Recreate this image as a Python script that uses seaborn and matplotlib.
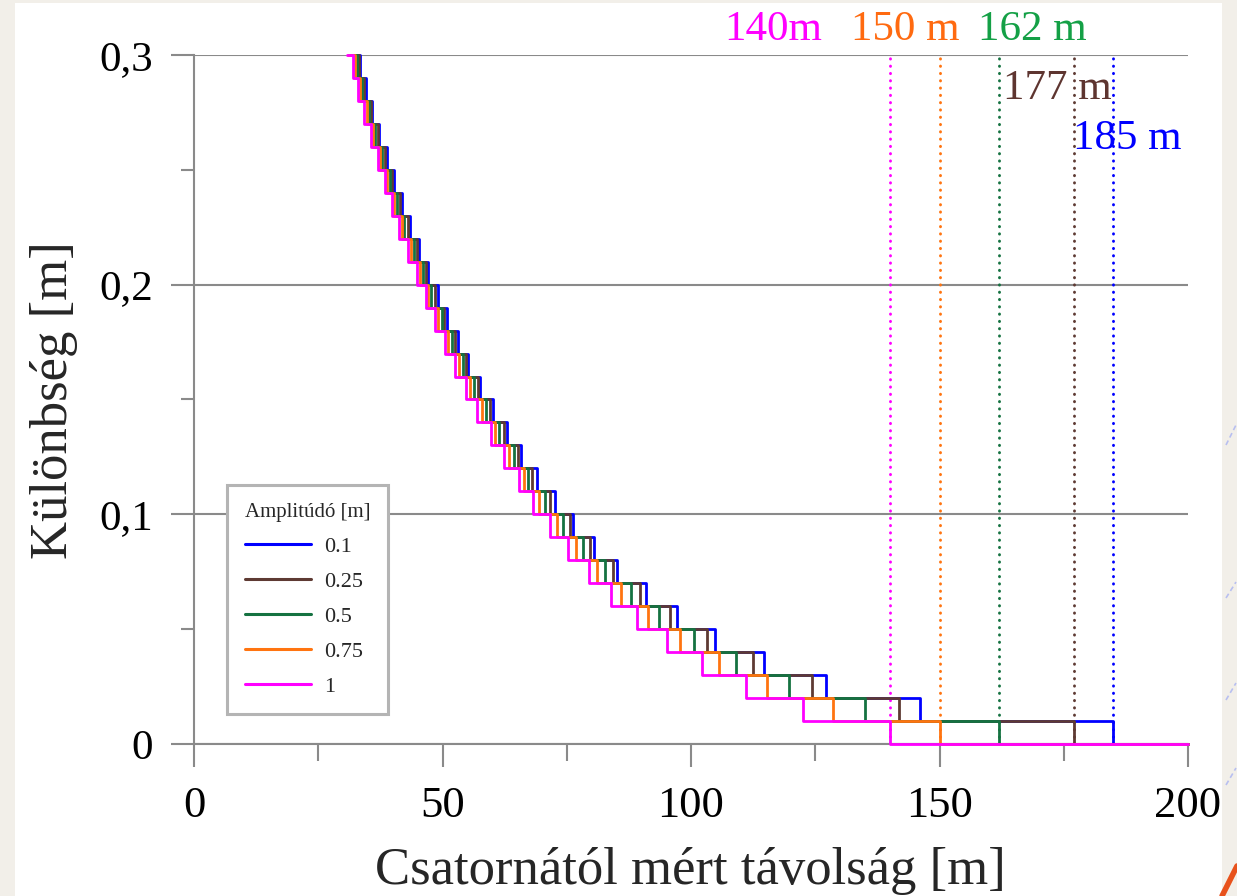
import matplotlib
matplotlib.use("Agg")
import matplotlib.pyplot as plt
import pandas as pd
import seaborn as sns
from matplotlib.patches import Rectangle
from matplotlib.lines import Line2D
from matplotlib.ticker import MultipleLocator

# ---------------- data ----------------
amplitudes = ["0.1", "0.25", "0.5", "0.75", "1"]
# difference levels (m) at which each step drops one centimetre
levels = [0.30, 0.29, 0.28, 0.27, 0.26, 0.25, 0.24, 0.23, 0.22, 0.21,
          0.20, 0.19, 0.18, 0.17, 0.16, 0.15, 0.14, 0.13, 0.12, 0.11,
          0.10, 0.09, 0.08, 0.07, 0.06, 0.05, 0.04, 0.03, 0.02, 0.01]
# distance where the curve leaves the top of the chart
start_x = {"0.1": 31.8, "0.25": 31.6, "0.5": 31.3, "0.75": 31.0, "1": 30.7}
# distance (m) at which each level drops to the next lower one
drop_x_01 = [33.4, 34.6, 35.9, 37.3, 38.8, 40.2, 41.8, 43.5, 45.3, 47.1,
             49.0, 51.0, 53.1, 55.2, 57.5, 60.1, 62.9, 65.7, 69.0, 72.6,
             76.3, 80.5, 85.2, 90.9, 97.1, 104.8, 114.6, 127.1, 146.1, 185.0]
drop_x_025 = [33.2, 34.3, 35.7, 37.0, 38.5, 39.9, 41.4, 43.1, 44.9, 46.7,
              48.4, 50.4, 52.5, 54.7, 57.1, 59.6, 62.4, 65.1, 68.1, 71.6,
              75.7, 79.7, 84.4, 89.7, 95.8, 103.3, 112.5, 124.4, 141.9, 177.0]
drop_x_05 = [32.7, 33.8, 35.2, 36.4, 37.9, 39.4, 40.8, 42.3, 44.3, 46.1,
             47.7, 49.8, 51.9, 54.1, 56.3, 58.8, 61.4, 64.3, 67.3, 70.6,
             74.3, 78.2, 82.7, 87.9, 93.6, 100.6, 109.0, 119.8, 135.1, 162.0]
drop_x_075 = [32.3, 33.4, 34.8, 36.0, 37.5, 38.9, 40.3, 41.9, 43.7, 45.5,
              47.1, 49.1, 51.2, 53.3, 55.5, 57.9, 60.6, 63.3, 66.3, 69.5,
              73.0, 76.8, 81.0, 85.9, 91.3, 97.8, 105.6, 115.2, 128.5, 150.0]
drop_x_1 = [31.9, 32.9, 34.3, 35.6, 37.0, 38.4, 39.8, 41.3, 43.1, 44.8,
            46.6, 48.4, 50.5, 52.6, 54.7, 57.0, 59.7, 62.4, 65.3, 68.3,
            71.6, 75.3, 79.5, 83.9, 89.1, 95.1, 102.2, 111.1, 122.5, 140.0]
x_end = 200.0

cutoff_x = [185, 177, 162, 150, 140]
cutoff_labels = ["185 m", "177 m", "162 m", "150 m", "140m"]

# ---------------- styles ----------------
line_colors = ["#0000ff", "#5e3a33", "#157241", "#ff7410", "#ff00ff"]
text_colors = ["#0000ff", "#5e3530", "#14a046", "#ff6a10", "#ff00ff"]
label_xy = [(187.7, 0.2634), (173.8, 0.2852), (168.6, 0.3111),
            (143.1, 0.3111), (116.5, 0.3111)]

drops = dict(zip(amplitudes, [drop_x_01, drop_x_025, drop_x_05, drop_x_075, drop_x_1]))
rows = []
for amp in amplitudes:
    xs = [start_x[amp]] + drops[amp] + [x_end]
    ys = [levels[0]] + [round(l - 0.01, 2) for l in levels] + [0.0]
    for xv, yv in zip(xs, ys):
        rows.append({"x": xv, "y": yv, "amp": amp})
df = pd.DataFrame(rows)

sns.set_style("white")
plt.rcParams["font.family"] = ["Liberation Serif", "DejaVu Serif"]

W, H = 1237, 896
fig = plt.figure(figsize=(W / 100, H / 100), dpi=100)
fig.patch.set_facecolor("#f2efe9")
fig.add_artist(Rectangle((15 / W, 0), (1222 - 15) / W, 893 / H,
                         transform=fig.transFigure, facecolor="white",
                         edgecolor="none", zorder=-5))
# slide decorations in the right margin
for (x0, y0, x1, y1) in [(1226, 445, 1236, 425), (1226, 598, 1236, 582),
                         (1226, 700, 1236, 683), (1226, 785, 1236, 768)]:
    fig.add_artist(Line2D([x0 / W, x1 / W], [1 - y0 / H, 1 - y1 / H],
                          transform=fig.transFigure, color="#b8bff0",
                          lw=1.2, ls=(0, (3, 2))))
fig.add_artist(Line2D([1222 / W, 1237 / W], [1 - 896 / H, 1 - 866 / H],
                      transform=fig.transFigure, color="#e8521c", lw=4))

ax = fig.add_axes([194 / W, 1 - 744 / H, (1188 - 194) / W, (744 - 55) / H])
ax.patch.set_alpha(0)

palette = dict(zip(amplitudes, line_colors))
sns.lineplot(data=df, x="x", y="y", hue="amp", hue_order=amplitudes,
             palette=palette, drawstyle="steps-post", estimator=None,
             sort=False, linewidth=2.0, ax=ax, zorder=4, clip_on=False)

for xv, col in zip(cutoff_x, line_colors):
    ax.axvline(xv, ymin=0, ymax=1, color=col, lw=2.1, ls=(0, (0.1, 2.4)),
               dash_capstyle="round", zorder=3)
for (tx, ty), lab, col in zip(label_xy, cutoff_labels, text_colors):
    ax.text(tx, ty, lab, color=col, fontsize=31, ha="center", va="center",
            clip_on=False)

ax.set_xlim(0, 200)
ax.set_ylim(0, 0.3)
ax.set_xticks([0, 50, 100, 150, 200])
ax.set_xticklabels(["0", "50", "100", "150", "200"])
ax.set_yticks([0, 0.1, 0.2, 0.3])
ax.set_yticklabels(["0", "0,1", "0,2", "0,3"])
ax.xaxis.set_minor_locator(MultipleLocator(25))
ax.yaxis.set_minor_locator(MultipleLocator(0.05))

grey = "#8a8a8a"
ax.yaxis.grid(True, which="major", color=grey, lw=1.5)
ax.xaxis.grid(False)
ax.set_axisbelow(True)
for side in ["top", "right"]:
    ax.spines[side].set_visible(False)
for side in ["left", "bottom"]:
    ax.spines[side].set_color(grey)
    ax.spines[side].set_linewidth(1.5)

ax.tick_params(axis="both", which="both", bottom=True, left=True,
               direction="out", color=grey, width=1.5, labelcolor="black")
ax.tick_params(axis="x", which="major", length=16.5, labelsize=32, pad=14)
ax.tick_params(axis="x", which="minor", length=12.5)
ax.tick_params(axis="y", which="major", length=16.5, labelsize=31, pad=13)
ax.tick_params(axis="y", which="minor", length=9.5)

ax.set_xlabel("Csatornától mért távolság [m]", fontsize=38)
ax.set_ylabel("Különbség [m]", fontsize=38)
ax.xaxis.label.set_va("baseline")
ax.xaxis.set_label_coords(0.499, (744 - 884) / (744 - 55))
ax.yaxis.label.set_va("center")
ax.yaxis.set_label_coords((54 - 194) / (1188 - 194), 0.499)

sns.move_legend(ax, loc="upper left", bbox_to_anchor=(0.033, 0.376),
                title="Amplitúdó [m]", fontsize=16, title_fontsize=15,
                frameon=True, fancybox=False, edgecolor="#b4b4b4",
                framealpha=1, handlelength=3.0, handletextpad=0.6,
                labelspacing=0.65, borderpad=0.8, borderaxespad=0,
                alignment="left")
leg = ax.get_legend()
leg.get_frame().set_linewidth(2.2)
for ln in leg.get_lines():
    ln.set_linewidth(2.2)

fig.savefig("out.png", dpi=100, facecolor=fig.get_facecolor())
